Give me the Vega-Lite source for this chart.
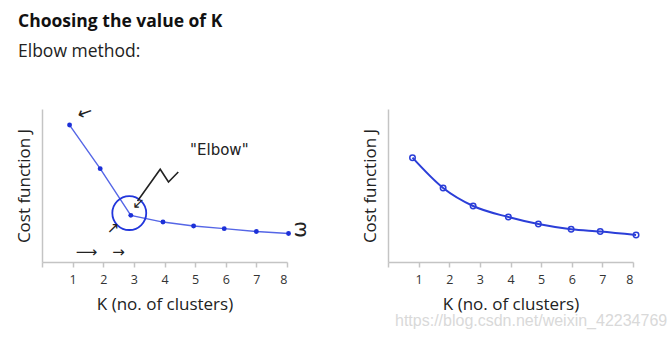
{
  "$schema": "https://vega.github.io/schema/vega-lite/v6.json",
  "padding": {"left": 14, "top": 12, "right": 4, "bottom": 4},
  "background": "white",
  "title": {
    "text": "Choosing the value of K",
    "subtitle": "Elbow method:",
    "anchor": "start",
    "font": "Open Sans",
    "fontSize": 17.5,
    "fontWeight": "bold",
    "color": "#111111",
    "subtitleFont": "Open Sans",
    "subtitleFontSize": 17.5,
    "subtitleColor": "#222222",
    "subtitlePadding": 13,
    "offset": 42,
    "dx": 3,
    "frame": "bounds"
  },
  "spacing": 50,
  "config": {
    "view": {"stroke": null},
    "axis": {
      "grid": false,
      "domainColor": "#c4c4c4",
      "domainWidth": 1.5,
      "tickColor": "#c4c4c4",
      "tickWidth": 1.5,
      "labelFont": "Open Sans",
      "labelFontSize": 12.5,
      "labelColor": "#333333",
      "labelOverlap": false,
      "titleFont": "Open Sans",
      "titleFontSize": 17,
      "titleFontWeight": "normal",
      "titleColor": "#222222"
    }
  },
  "hconcat": [
    {
      "width": 245,
      "height": 153,
      "encoding": {
        "x": {"field": "K", "type": "quantitative", "scale": {"domain": [0, 8], "nice": false},
          "axis": {"values": [0, 1, 2, 3, 4, 5, 6, 7, 8], "labelExpr": "datum.value == 0 ? '' : datum.label", "tickSize": 5, "labelPadding": 6, "title": "K (no. of clusters)", "titlePadding": 11}},
        "y": {"field": "J", "type": "quantitative", "scale": {"domain": [0, 10], "nice": false},
          "axis": {"ticks": false, "labels": false, "title": "Cost function    J", "titlePadding": 9}}
      },
      "layer": [
        {
          "data": {"values": [
            {"K": 0.9, "J": 8.95},
            {"K": 1.9, "J": 6.1},
            {"K": 2.9, "J": 3.05},
            {"K": 3.95, "J": 2.61},
            {"K": 4.95, "J": 2.35},
            {"K": 5.95, "J": 2.18},
            {"K": 7.0, "J": 1.99},
            {"K": 8.05, "J": 1.86}
          ]},
          "layer": [
            {"mark": {"type": "line", "color": "#5566e6", "strokeWidth": 1.4}},
            {"mark": {"type": "point", "filled": true, "color": "#1c30d8", "size": 24, "opacity": 1}}
          ]
        },
        {
          "data": {"values": [{"K": 2.85, "J": 3.2}]},
          "mark": {"type": "point", "filled": false, "color": "#2236dc", "strokeWidth": 1.8, "size": 1150, "opacity": 1}
        },
        {
          "data": {"values": [
            {"K": 4.45, "J": 5.88, "step": 1},
            {"K": 4.13, "J": 5.23, "step": 2},
            {"K": 3.86, "J": 6.06, "step": 3},
            {"K": 3.12, "J": 3.99, "step": 4}
          ]},
          "mark": {"type": "line", "color": "#222222", "strokeWidth": 1.6},
          "encoding": {
            "order": {"field": "step", "type": "quantitative"}
          }
        },
        {
          "data": {"values": [
            {"K": 5.79, "J": 7.3, "note": "\"Elbow\""},
            {"K": 1.45, "J": 0.63, "note": "⟶"},
            {"K": 2.5, "J": 0.63, "note": "→"},
            {"K": 2.33, "J": 2.2, "note": "↗"},
            {"K": 3.15, "J": 3.85, "note": "↙"}
          ]},
          "mark": {"type": "text", "font": "DejaVu Sans", "fontSize": 15, "color": "#222222"},
          "encoding": {
            "text": {"field": "note"}
          }
        },
        {
          "data": {"values": [{"K": 1.41, "J": 9.7, "note": "←"}]},
          "mark": {"type": "text", "font": "DejaVu Sans", "fontSize": 18, "color": "#222222", "angle": 340},
          "encoding": {
            "text": {"field": "note"}
          }
        },
        {
          "data": {"values": [{"K": 8.42, "J": 2.14, "note": "ω"}]},
          "mark": {"type": "text", "font": "DejaVu Sans", "fontSize": 20, "color": "#222222", "angle": 270},
          "encoding": {
            "text": {"field": "note"}
          }
        }
      ]
    },
    {
      "width": 245,
      "height": 153,
      "title": {
        "text": "https://blog.csdn.net/weixin_42234769",
        "orient": "bottom",
        "anchor": "start",
        "font": "Liberation Sans",
        "fontSize": 16,
        "fontWeight": "normal",
        "color": "#d9d9d9",
        "offset": 0,
        "dx": 34
      },
      "data": {"values": [
        {"K": 0.8, "J": 6.82},
        {"K": 1.8, "J": 4.84},
        {"K": 2.78, "J": 3.66},
        {"K": 3.93, "J": 2.94},
        {"K": 4.91, "J": 2.48},
        {"K": 5.98, "J": 2.14},
        {"K": 6.93, "J": 1.99},
        {"K": 8.1, "J": 1.76}
      ]},
      "encoding": {
        "x": {"field": "K", "type": "quantitative", "scale": {"domain": [0, 8], "nice": false},
          "axis": {"values": [0, 1, 2, 3, 4, 5, 6, 7, 8], "labelExpr": "datum.value == 0 ? '' : datum.label", "tickSize": 5, "labelPadding": 6, "title": "K (no. of clusters)", "titlePadding": 11}},
        "y": {"field": "J", "type": "quantitative", "scale": {"domain": [0, 10], "nice": false},
          "axis": {"ticks": false, "labels": false, "title": "Cost function    J", "titlePadding": 9}}
      },
      "layer": [
        {"mark": {"type": "line", "color": "#2b3ed8", "strokeWidth": 2, "interpolate": "monotone"}},
        {"mark": {"type": "point", "filled": false, "color": "#2b3ed8", "strokeWidth": 1.5, "size": 30, "opacity": 1}}
      ]
    }
  ]
}
